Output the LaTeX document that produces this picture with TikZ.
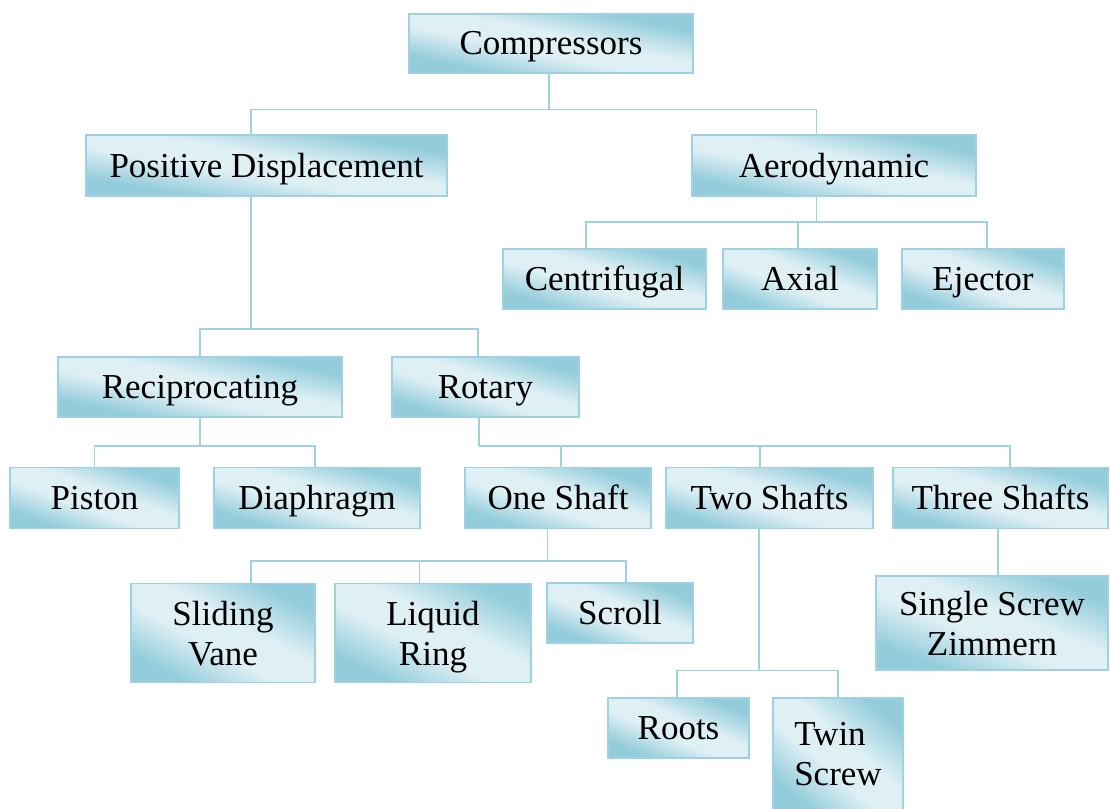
\documentclass[tikz,border=0pt]{standalone}
\usepackage{fontspec}
\setmainfont{Liberation Serif}
\definecolor{boxdark}{HTML}{93CCDB}
\definecolor{boxlight}{HTML}{DFF0F5}
\definecolor{edgecol}{HTML}{9ED2E0}
\pgfdeclarehorizontalshading{boxshade}{200bp}{color(0bp)=(boxdark); color(50bp)=(boxdark); color(86bp)=(boxlight); color(112bp)=(boxlight); color(150bp)=(boxdark); color(200bp)=(boxdark)}
\tikzset{
  cbox/.style={draw=edgecol, line width=1.6pt,
    font=\fontsize{35}{40}\selectfont,
    inner sep=0pt, outer sep=0pt, text depth=0pt},
  oneline/.style={text height=23pt},
  twoline/.style={align=center},
  conn/.style={draw=edgecol, line width=1.8pt},
}
% #1 options, #2 name, #3 cx, #4 cy, #5 width, #6 height, #7 text
\newcommand\mybox[7][]{%
  \begin{scope}
    \clip (#3-#5/2,#4-#6/2) rectangle (#3+#5/2,#4+#6/2);
    \pgfmathsetmacro\myW{#5/100}%
    \pgfmathsetmacro\myH{#6/100}%
    \begin{scope}[transform canvas={shift={(#3,#4)},xscale=\myW,yscale=\myH,rotate=45}]
      \node[inner sep=0pt,outer sep=0pt] at (0,0) {\pgfuseshading{boxshade}};
    \end{scope}
  \end{scope}
  \node[cbox,minimum width=#5pt,minimum height=#6pt,#1] (#2) at (#3,#4) {#7};
}
\begin{document}
\begin{tikzpicture}[x=1pt,y=-1pt]
\useasboundingbox (0,0) rectangle (1110,808);
% nodes
\mybox[oneline]{comp}{551}{43.5}{284}{59}{Compressors}
\mybox[oneline]{pd}{266.5}{165.5}{361}{61}{Positive Displacement}
\mybox[oneline]{aero}{834}{165.5}{284}{61}{Aerodynamic}
\mybox[oneline]{cent}{604.5}{279}{203}{60}{Centrifugal}
\mybox[oneline]{axial}{800}{279}{154}{60}{Axial}
\mybox[oneline]{eject}{983}{279}{162}{60}{Ejector}
\mybox[oneline]{recip}{200}{387}{284}{60}{Reciprocating}
\mybox[oneline]{rotary}{485.5}{387}{187}{60}{Rotary}
\mybox[oneline]{piston}{94.5}{498}{169}{61}{Piston}
\mybox[oneline]{diaph}{317}{498}{206}{61}{Diaphragm}
\mybox[oneline]{one}{558}{498}{186}{61}{One Shaft}
\mybox[oneline]{two}{769.5}{498}{207}{61}{Two Shafts}
\mybox[oneline]{three}{1000.5}{498}{215}{61}{Three Shafts}
\mybox[twoline]{slide}{223}{633}{184}{99}{Sliding\\Vane}
\mybox[twoline]{liquid}{433}{633}{196}{99}{Liquid\\Ring}
\mybox[oneline]{scroll}{620}{613}{146}{60}{Scroll}
\mybox[twoline]{single}{992}{623}{232}{94}{Single Screw\\Zimmern}
\mybox[oneline]{roots}{678.5}{728}{141}{60}{Roots}
\mybox[align=left]{twin}{838}{754}{130}{112}{Twin\\Screw}
% connectors
\draw[conn] ([xshift=-2pt]comp.south) -- ++(0,36.5) coordinate (j1);
\draw[conn] (j1) -| ([xshift=-15.5pt]pd.north);
\draw[conn] (j1) -| ([xshift=-17.5pt]aero.north);

\draw[conn] ([xshift=-17.5pt]aero.south) -- ++(0,26) coordinate (j2);
\draw[conn] (j2) -| ([xshift=-18.5pt]cent.north);
\draw[conn] (j2) -| ([xshift=-2pt]axial.north);
\draw[conn] (j2) -| ([xshift=4pt]eject.north);

\draw[conn] ([xshift=-15.5pt]pd.south) -- ++(0,133) coordinate (j3);
\draw[conn] (j3) -| (recip.north);
\draw[conn] (j3) -| ([xshift=-7.5pt]rotary.north);

\draw[conn] (recip.south) -- ++(0,29) coordinate (j4);
\draw[conn] (j4) -| (piston.north);
\draw[conn] (j4) -| ([xshift=-2pt]diaph.north);

\draw[conn] ([xshift=-6.5pt]rotary.south) -- ++(0,29) coordinate (j5);
\draw[conn] (j5) -| ([xshift=3pt]one.north);
\draw[conn] (j5) -| ([xshift=-9.5pt]two.north);
\draw[conn] (j5) -| ([xshift=9.5pt]three.north);

\draw[conn] ([xshift=-10.5pt]one.south) -- ++(0,32.5) coordinate (j6);
\draw[conn] (j6) -| ([xshift=28pt]slide.north);
\draw[conn] (j6) -| ([xshift=-13.5pt]liquid.north);
\draw[conn] (j6) -| ([xshift=6pt]scroll.north);

\draw[conn] ([xshift=-10.5pt]two.south) -- ++(0,142) coordinate (j7);
\draw[conn] (j7) -| ([xshift=-1.5pt]roots.north);
\draw[conn] (j7) -| (twin.north);

\draw[conn] ([xshift=-2.5pt]three.south) -- ([xshift=6pt]single.north);
\end{tikzpicture}
\end{document}
